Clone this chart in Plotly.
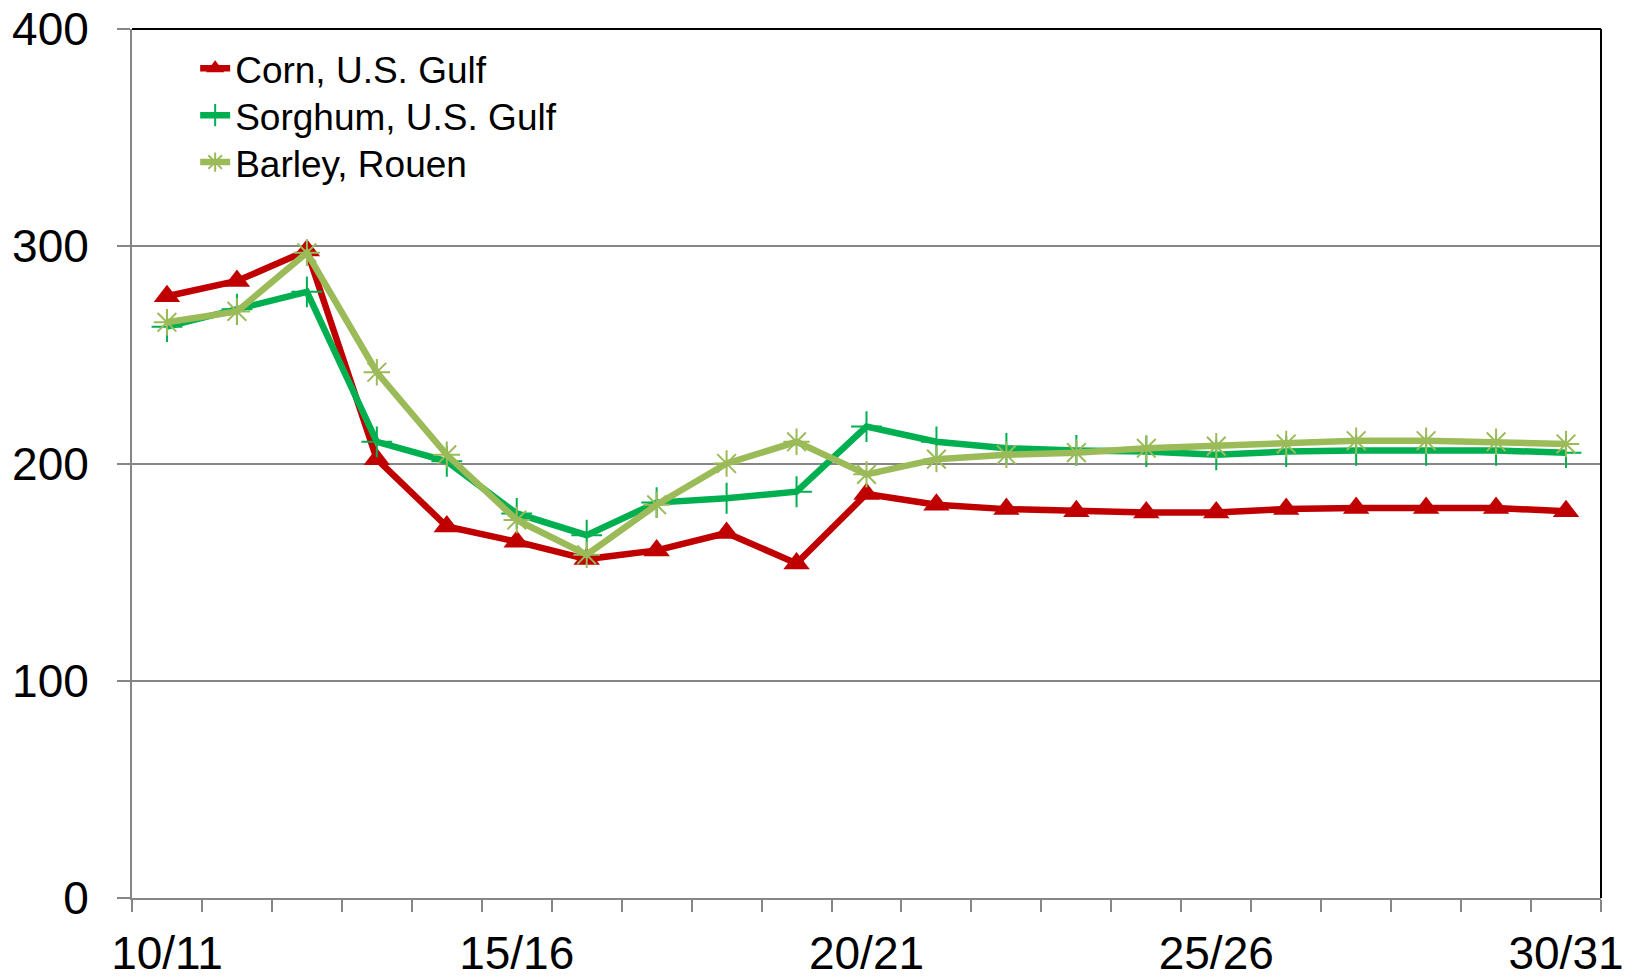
import plotly.graph_objects as go

years = ["10/11", "11/12", "12/13", "13/14", "14/15", "15/16", "16/17", "17/18", "18/19",
         "19/20", "20/21", "21/22", "22/23", "23/24", "24/25", "25/26", "26/27", "27/28",
         "28/29", "29/30", "30/31"]
shown_labels = ["10/11", "15/16", "20/21", "25/26", "30/31"]

corn = [277, 284, 298, 202, 171, 164, 156, 160, 168, 154, 186, 181, 179, 178, 177.5,
        177.5, 179, 179.5, 179.5, 179.5, 178]
sorghum = [263, 271, 279, 210, 201, 177, 167, 182, 184, 187, 217, 210, 207, 206, 205.5,
           204, 205.5, 206, 206, 206, 205]
barley = [265, 270, 297, 242, 204, 174, 158, 181, 200, 210, 195, 202, 204, 205, 207,
          208, 209, 210.5, 210.5, 210, 209]

FONT = "Liberation Sans, Arial, sans-serif"
GRAY = "#868686"

fig = go.Figure()
fig.add_trace(go.Scatter(
    x=years, y=corn, name="Corn, U.S. Gulf", mode="lines+markers", legend="legend",
    line=dict(color="#C00000", width=6.5),
    marker=dict(symbol="triangle-up", size=23, color="#C00000"),
))
fig.add_trace(go.Scatter(
    x=years, y=sorghum, name="Sorghum, U.S. Gulf", mode="lines+markers", legend="legend2",
    line=dict(color="#00B050", width=6.5),
    marker=dict(symbol="cross-thin-open", size=22, color="#00B050",
                line=dict(color="#00B050", width=2)),
))
fig.add_trace(go.Scatter(
    x=years, y=barley, name="Barley, Rouen", mode="lines+markers", legend="legend3",
    line=dict(color="#9BBB59", width=6.5),
    marker=dict(symbol="asterisk-open", size=22, color="#9BBB59",
                line=dict(color="#9BBB59", width=2)),
))

def legend_at(ypos):
    return dict(
        x=0.043, y=ypos, xanchor="left", yanchor="top",
        font=dict(size=37, family=FONT, color="black"),
        bgcolor="rgba(0,0,0,0)", itemsizing="trace",
    )

fig.update_layout(
    width=1635, height=977,
    margin=dict(l=124, r=42, t=21, b=87),
    paper_bgcolor="white", plot_bgcolor="white",
    font=dict(family=FONT, color="black"),
    showlegend=True,
    legend=legend_at(0.99),
    legend2=legend_at(0.936),
    legend3=legend_at(0.882),
    xaxis=dict(
        type="category", categoryorder="array", categoryarray=years,
        range=[-0.5, len(years) - 0.5], automargin=False,
        tickmode="array", tickvals=years, tickangle=0,
        ticktext=[y if y in shown_labels else "" for y in years],
        tickson="boundaries", ticks="outside", ticklen=12, tickwidth=1.5, tickcolor=GRAY,
        showline=True, linecolor=GRAY, linewidth=2,
        showgrid=False, zeroline=False,
        tickfont=dict(size=46, family=FONT, color="black"),
        ticklabelstandoff=14, ticklabeloverflow="allow",
    ),
    yaxis=dict(
        range=[0, 400], tickmode="array", tickvals=[0, 100, 200, 300, 400],
        automargin=False,
        ticks="outside", ticklen=13, tickwidth=1.5, tickcolor=GRAY,
        showline=True, linecolor=GRAY, linewidth=2,
        showgrid=True, gridcolor=GRAY, gridwidth=1.5, zeroline=False,
        tickfont=dict(size=46, family=FONT, color="black"),
        ticklabelstandoff=19, ticklabeloverflow="allow",
    ),
    shapes=[
        dict(type="line", xref="paper", yref="paper", x0=0, x1=1, y0=1, y1=1,
             line=dict(color="black", width=2)),
        dict(type="line", xref="paper", yref="paper", x0=1, x1=1, y0=0, y1=1,
             line=dict(color="black", width=2)),
    ],
)

fig.write_html("out.html")
